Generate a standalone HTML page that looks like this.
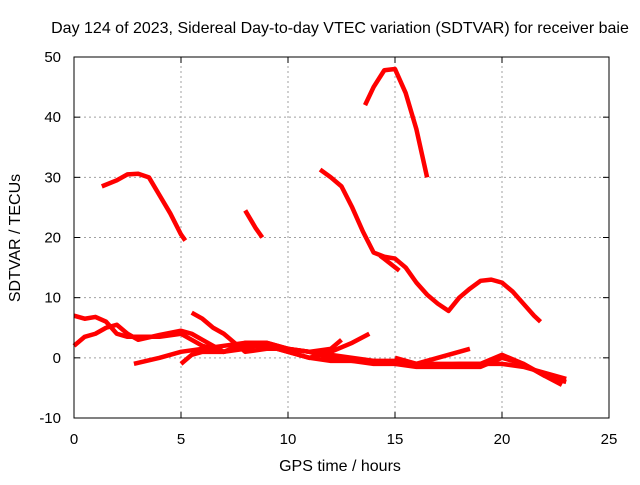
<!DOCTYPE html>
<html><head><meta charset="utf-8"><style>
body{margin:0;background:#fff}
svg text{font-family:"Liberation Sans",sans-serif;font-size:15px;fill:#000}
svg text.big{font-size:16px}
</style></head><body>
<svg id="c" width="640" height="480">
<text class="big" x="340" y="33" text-anchor="middle">Day 124 of 2023, Sidereal Day-to-day VTEC variation (SDTVAR) for receiver baie</text>
<text class="big" x="340" y="471" text-anchor="middle">GPS time / hours</text>
<text class="big" x="20" y="238" text-anchor="middle" transform="rotate(-90 20 238)">SDTVAR / TECUs</text>
<g id="grid"></g><g id="series"></g><g id="axes"></g>
</svg>
<script>
const xTicks=[0,5,10,15,20,25];
const yTicks=[-10,0,10,20,30,40,50];
const trackA=[[1.3,28.5],[2,29.5],[2.5,30.5],[3,30.6],[3.5,30],[4,27],[4.5,24],[5,20.5],[5.2,19.5]];
const trackB=[[8,24.5],[8.5,21.5],[8.8,20]];
const trackC=[[13.6,42],[14,45],[14.5,47.8],[15,48],[15.5,44],[16,38],[16.5,30]];
const trackD=[[11.5,31.3],[12,30],[12.5,28.5],[13,25],[13.5,21],[14,17.5],[14.5,16.8],[15,16.5],[15.5,15],[16,12.5],[16.5,10.5],[17,9],[17.5,7.8],[18,10],[18.5,11.5],[19,12.8],[19.5,13],[20,12.5],[20.5,11],[21,9],[21.5,7],[21.8,6]];
const trackE=[[14.3,17],[15.2,14.5]];
const trackL1=[[0,7],[0.5,6.5],[1,6.8],[1.5,6],[2,4],[2.5,3.5],[3,3.5],[4,3.5],[5,4],[5.5,3],[6,2],[7,1],[8,1.5],[9,2.5],[10,1.5],[11,1],[12,0],[13,-0.5],[14,-0.5],[15,-0.5],[16,-1],[17,-1.2],[18,-1],[19,-1],[20,-1],[21,-1.5],[22,-2.5],[23,-3.5]];
const trackL2=[[0,2],[0.5,3.5],[1,4],[1.5,5],[2,5.5],[2.5,4],[3,3],[4,3.8],[5,4.5],[5.5,4],[6,3],[7,1],[8,2],[9,2],[10,1],[11,0],[12,1],[13,2.5],[13.8,4]];
const trackL3=[[5.5,7.5],[6,6.5],[6.5,5],[7,4],[7.5,2.5],[8,1],[9,1.5],[10,1.5],[11,1],[12,0.5],[13,0],[14,-0.5],[15,-1],[16,-1.5],[17,-1.5],[18,-1.5],[19,-1.5],[20,0],[21,-1],[21.5,-2],[22,-3],[22.8,-4.5]];
const trackL4=[[2.8,-1],[4,0],[5,1],[6,1.5],[7,2],[8,2.5],[9,2.5],[10,1.5],[11,1],[12,1.5],[12.5,3]];
const trackL5=[[5,-1],[5.5,0.5],[6,1],[7,1],[8,2.5],[9,2],[10,1],[11,0],[12,-0.5],[13,-0.5],[14,-1],[15,-1],[16,-1],[17,0],[18,1],[18.5,1.5]];
const trackL6=[[15,0],[16,-1],[17,-1],[18,-1],[19,-1],[20,0.5],[21,-1],[22,-3],[23,-4]];
const tracks=[trackA,trackB,trackC,trackD,trackE,trackL1,trackL2,trackL3,trackL4,trackL5,trackL6];
const X0=74,X1=609,Y0=418,Y1=57;
const sx=v=>X0+(v-0)/25*(X1-X0);
const sy=v=>Y0-(v+10)/60*(Y0-Y1);
const NS="http://www.w3.org/2000/svg";
const mk=(t,a,p)=>{const e=document.createElementNS(NS,t);for(const k in a)e.setAttribute(k,a[k]);p.appendChild(e);return e;};
const grid=document.getElementById('grid'),axes=document.getElementById('axes'),ser=document.getElementById('series');
xTicks.forEach(t=>{
 if(t>0&&t<25){const g=mk('line',{x1:sx(t),x2:sx(t),y1:Y0,y2:Y1,stroke:'#a0a0a0','stroke-dasharray':'2,3'},grid);
 
 }
 const l=mk('text',{x:sx(t),y:Y0+26,'text-anchor':'middle'},axes);l.textContent=t;
 
 
 mk('line',{x1:sx(t),x2:sx(t),y1:Y0,y2:Y0-6,stroke:'#000'},axes);
 mk('line',{x1:sx(t),x2:sx(t),y1:Y1,y2:Y1+6,stroke:'#000'},axes);
});
yTicks.forEach(t=>{
 if(t>-10&&t<50){const g=mk('line',{x1:X0,x2:X1,y1:sy(t),y2:sy(t),stroke:'#a0a0a0','stroke-dasharray':'2,3'},grid);
 
 }
 const l=mk('text',{x:X0-13,y:sy(t)+5,'text-anchor':'end'},axes);l.textContent=t;
 
 
 mk('line',{x1:X0,x2:X0+6,y1:sy(t),y2:sy(t),stroke:'#000'},axes);
 mk('line',{x1:X1,x2:X1-6,y1:sy(t),y2:sy(t),stroke:'#000'},axes);
});
const b=mk('rect',{x:X0,y:Y1,width:X1-X0,height:Y0-Y1,fill:'none',stroke:'#000'},axes);


tracks.forEach((tr,i)=>{
 const p=mk('polyline',{points:tr.map(d=>sx(d[0])+','+sy(d[1])).join(' '),fill:'none',stroke:'#ff0000','stroke-width':4.5,'stroke-linejoin':'round'},ser);
 
 
});
</script>
</body></html>
